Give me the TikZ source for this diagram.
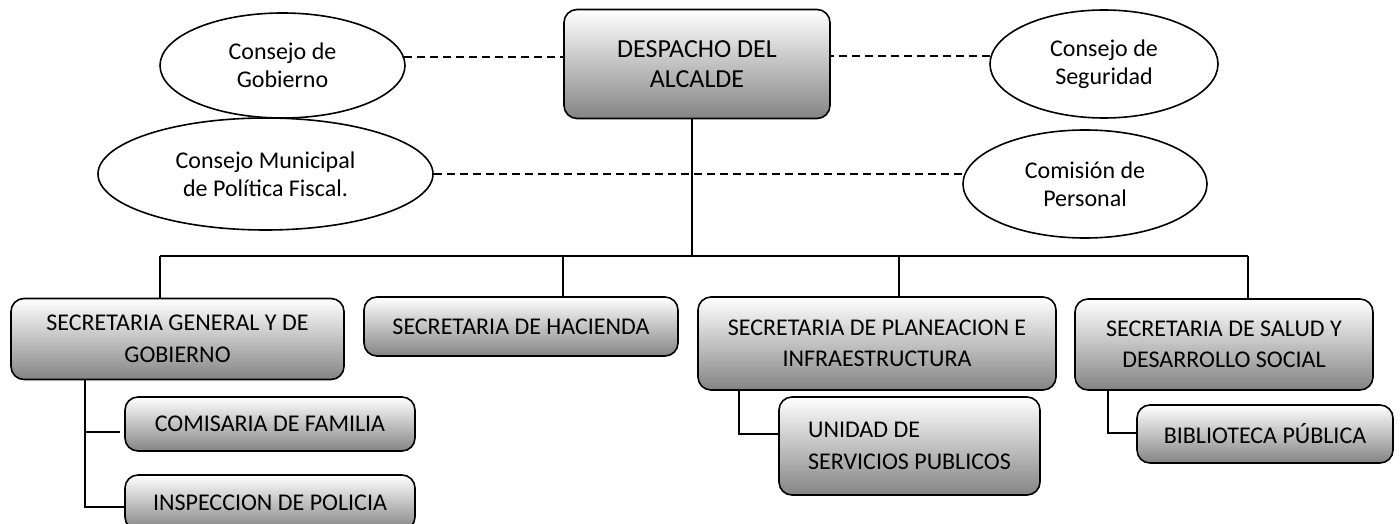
\documentclass[tikz,border=0pt]{standalone}
\usepackage{fontspec}
\setmainfont{Carlito}
\usetikzlibrary{shapes.geometric}
\definecolor{boxbot}{RGB}{132,132,132}
\tikzset{
  conn/.style={line width=1.8pt},
  dashline/.style={line width=1.8pt, dash pattern=on 8pt off 5pt},
  orgbox/.style={draw, line width=1.6pt, rounded corners=13pt, top color=white, bottom color=boxbot,
     align=center, inner sep=2pt, font=\fontsize{24}{31.5}\selectfont},
  council/.style={draw, ellipse, line width=1.6pt, fill=white, align=center, inner sep=0pt,
     font=\fontsize{24}{28}\selectfont}
}
\begin{document}
\begin{tikzpicture}[x=1pt,y=-1pt]
\useasboundingbox (0,0) rectangle (1400,524);
\clip (0,0) rectangle (1400,524);
% nodes
\node[orgbox, font=\fontsize{26}{30.5}\selectfont, minimum width=266pt, minimum height=109pt] (desp) at (697,64) {DESPACHO DEL\\ALCALDE};
\node[council, minimum width=245pt, minimum height=105pt] (gob) at (282.5,65.5) {Consejo de\\Gobierno};
\node[council, minimum width=228pt, minimum height=108pt] (seg) at (1104,64) {Consejo de\\Seguridad};
\node[council, minimum width=335pt, minimum height=112pt] (mun) at (265.5,174) {Consejo Municipal\\de Política Fiscal.};
\node[council, minimum width=244pt, minimum height=108pt] (per) at (1085,184) {Comisión de\\Personal};
\node[orgbox, minimum width=333pt, minimum height=81pt] (sg) at (177.5,339) {SECRETARIA GENERAL Y DE\\GOBIERNO};
\node[orgbox, minimum width=314pt, minimum height=59pt] (hac) at (521,326.5) {SECRETARIA DE HACIENDA};
\node[orgbox, minimum width=358pt, minimum height=93pt] (pla) at (877,343.5) {SECRETARIA DE PLANEACION E\\INFRAESTRUCTURA};
\node[orgbox, minimum width=298pt, minimum height=91pt] (sal) at (1224,344.5) {SECRETARIA DE SALUD Y\\DESARROLLO SOCIAL};
\node[orgbox, minimum width=290pt, minimum height=54pt] (com) at (270,424) {COMISARIA DE FAMILIA};
\node[orgbox, minimum width=290pt, minimum height=55pt] (ins) at (270,502.5) {INSPECCION DE POLICIA};
\node[orgbox, align=left, minimum width=261pt, minimum height=98pt] (uni) at (909.5,446) {UNIDAD DE\\SERVICIOS PUBLICOS};
\node[orgbox, minimum width=256pt, minimum height=58pt] (bib) at (1265,434) {BIBLIOTECA PÚBLICA};
% bus coordinates
\coordinate (trunk) at (692,256);
\coordinate (b1) at (160,256);
\coordinate (b2) at (563,256);
\coordinate (b3) at (899,256);
\coordinate (b4) at (1248,256);
\coordinate (sgv) at (85,507);
\coordinate (comend) at (120,432);
\coordinate (plav) at (739,434);
\coordinate (salv) at (1108,433);
% dashed links
\draw[dashline] (gob.4) -- (gob.4 -| desp.west);
\draw[dashline] (seg.176) -- (seg.176 -| desp.east);
\draw[dashline] (mun.east) -- (mun.east -| per.west);
% solid connectors
\draw[conn] (trunk |- desp.south) -- (trunk);
\draw[conn] (b1) -- (b4);
\draw[conn] (b1) -- (b1 |- sg.north);
\draw[conn] (b2) -- (b2 |- hac.north);
\draw[conn] (b3) -- (b3 |- pla.north);
\draw[conn] (b4) -- (b4 |- sal.north);
\draw[conn] (sgv |- sg.south) -- (sgv) -- (sgv -| ins.west);
\draw[conn] (comend -| sgv) -- (comend);
\draw[conn] (plav |- pla.south) -- (plav) -- (plav -| uni.west);
\draw[conn] (salv |- sal.south) -- (salv) -- (salv -| bib.west);
\end{tikzpicture}
\end{document}
